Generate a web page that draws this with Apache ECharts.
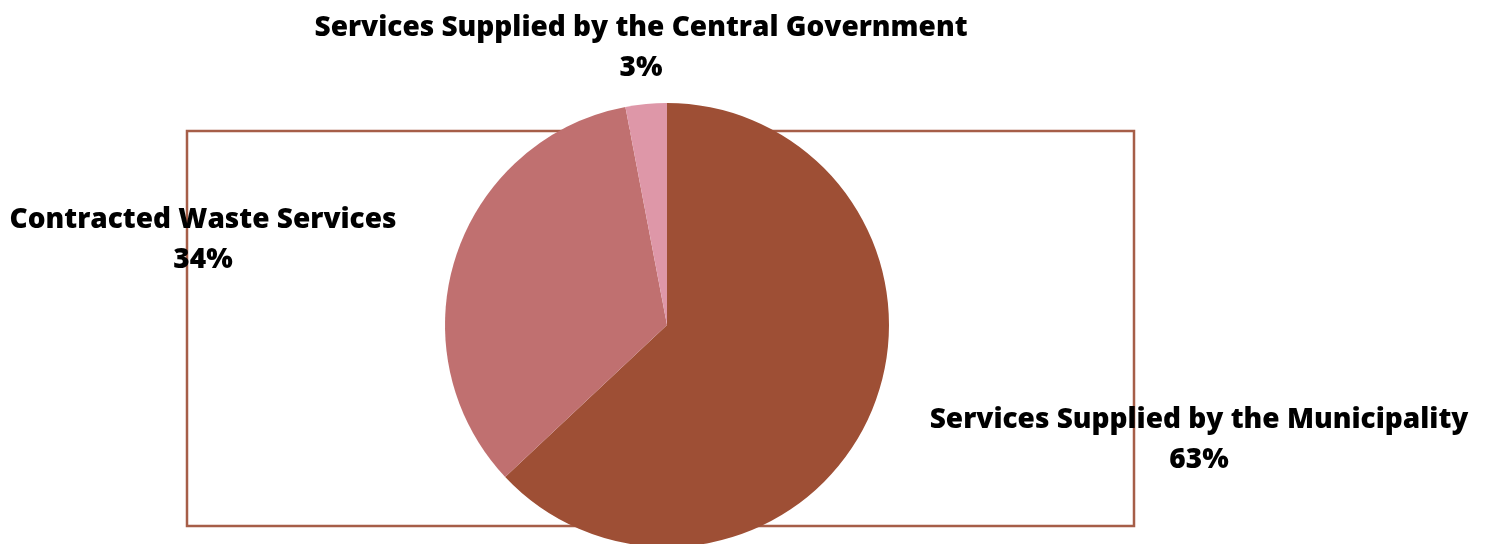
<!DOCTYPE html>
<html>
<head>
<meta charset="utf-8">
<style>
  html, body { margin: 0; padding: 0; background: #ffffff; }
  #chart { width: 1489px; height: 544px; }
</style>
<script src="https://cdn.jsdelivr.net/npm/echarts@6/dist/echarts.min.js"></script>
</head>
<body>
<div id="chart"></div>
<script>
// Share of waste collection services by provider
const categories = [
  'Services Supplied by the Municipality',
  'Contracted Waste Services',
  'Services Supplied by the Central Government'
];
const shares = [63, 34, 3];
const sliceColors = ['#9E4F35', '#C07070', '#DE97A8'];

// label anchor (centre of the two-line block) for each slice
const labelAnchors = [
  [1199, 440],
  [203, 240],
  [641, 48]
];

const chart = echarts.init(document.getElementById('chart'), null, { renderer: 'canvas' });

chart.setOption({
  backgroundColor: '#ffffff',
  animation: false,
  graphic: [{
    type: 'rect',
    z: -10,
    shape: { x: 187, y: 131, width: 947, height: 395 },
    style: { fill: 'none', stroke: '#A65E48', lineWidth: 2.5 }
  }],
  series: [{
    type: 'pie',
    center: [667, 325],
    radius: 222,
    startAngle: 90,
    clockwise: true,
    z: 2,
    data: categories.map((name, i) => ({
      name,
      value: shares[i],
      itemStyle: { color: sliceColors[i] }
    })),
    label: {
      show: true,
      formatter: (p) => p.name + '\n' + p.value + '%',
      fontFamily: '"Open Sans", sans-serif',
      fontWeight: 800,
      fontSize: 28,
      lineHeight: 40,
      color: '#000000',
      align: 'center',
      width: 900,
      overflow: 'none'
    },
    labelLine: { show: false },
    labelLayout: (params) => {
      const a = labelAnchors[params.dataIndex];
      return { x: a[0], y: a[1], align: 'center', verticalAlign: 'middle', width: 900 };
    },
    emphasis: { disabled: true }
  }]
});
</script>
</body>
</html>
